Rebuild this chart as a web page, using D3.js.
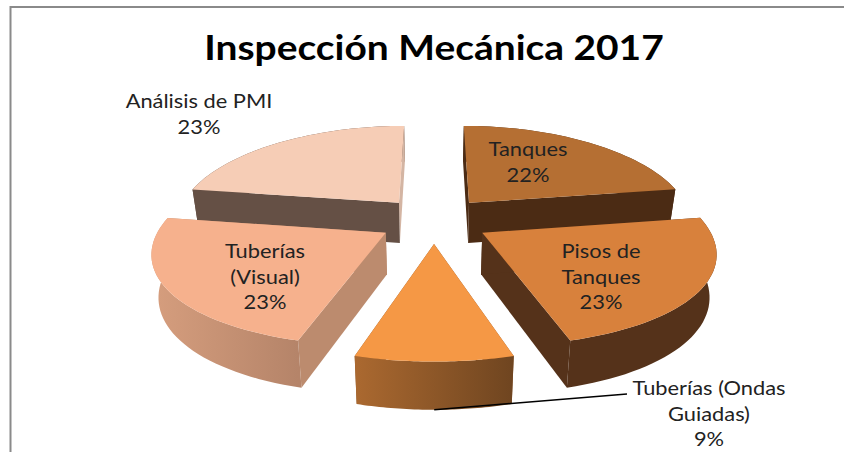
<!DOCTYPE html>
<html>
<head>
<meta charset="utf-8">
<script src="https://cdn.jsdelivr.net/npm/d3@7"></script>
<style>
    html, body { margin: 0; padding: 0; background: #fff; }
    svg { display: block; }
    text { font-family: Lato, "Open Sans", sans-serif; fill: #222; text-anchor: middle; }
</style>
</head>
<body>
<div id="chart"></div>
<script>
const title = 'Inspección Mecánica 2017';
const categories = ['Tanques', 'Pisos de Tanques', 'Tuberías (Ondas Guiadas)', 'Tuberías (Visual)', 'Análisis de PMI'];
const values = [22.49, 23, 9, 23, 22.51];

// label text split the way the chart wraps it
const labelLines = [['Tanques'], ['Pisos de', 'Tanques'], ['Tuberías (Ondas', 'Guiadas)'], ['Tuberías', '(Visual)'], ['Análisis de PMI']];
const labelCenters = [[528, 156], [601, 258], [709, 395], [265, 258], [199, 108]];

const topColors = ['#b56f33', '#d8813c', '#f59845', '#f6b18d', '#f6cdb6'];
const startWallColors = ['#4b2b14', '#55321a', '#8a5428', '#bc8b6e', '#655045'];
const endWallColors = ['#4b2b14', '#55321a', '#8a5428', '#bc8b6e', '#d4b5a3'];
const rimColors = [['#4b2b14', '#4b2b14'], ['#55321a', '#55321a'], ['#ab6930', '#6f4520'], ['#d69e7e', '#b58469'], ['#655045', '#655045']];

const width = 844, height = 452;
const cx = 434, cy = 220;      // centre of the pie on screen
const scaleU = 223, scaleV = 92.7;   // pie radius across / deep
const perspU = 0.18, perspV = 0.145; // front of the pie is closer to the camera
const depth = 41;              // height of the extruded pie
const explode = 0.25;          // how far each slice is pulled out, in radii
const textStretch = 1.12;      // the picture's text is wider than the font

const svg = d3.select('#chart').append('svg')
    .attr('width', width)
    .attr('height', height);

const defs = svg.append('defs');

// chart frame, only the top and left edges are in the picture
svg.append('path')
    .attr('d', `M10.5,${height} V7 H${width}`)
    .attr('fill', 'none')
    .attr('stroke', '#8a8a8a')
    .attr('stroke-width', 2);

svg.append('text')
    .attr('transform', 'translate(434,60) scale(1.145,1)')
    .attr('font-size', 34)
    .attr('font-weight', 700)
    .style('fill', '#000')
    .text(title);

// ground plane -> screen. z is 0 on the top surface and 1 on the bottom one
function project(u, v, z) {
    const shrink = z ? 0.975 : 1;
    return [
        cx + shrink * scaleU * u / (1 - perspU * v),
        cy + scaleV * v / (1 - perspV * v) + z * depth / (1 - 0.12 * v)
    ];
}

const pie = d3.pie().sort(null);
const arcs = pie(values);
const line = d3.line();

function rimPoints(d) {
    const mid = (d.startAngle + d.endAngle) / 2;
    const u0 = explode * Math.sin(mid), v0 = -explode * Math.cos(mid);
    const n = 40;
    return d3.range(n + 1).map(k => {
        const a = d.startAngle + (d.endAngle - d.startAngle) * k / n;
        return [u0 + Math.sin(a), v0 - Math.cos(a)];
    });
}

// back slices first so the nearer ones paint over them
const drawOrder = [4, 0, 3, 1, 2];

drawOrder.forEach(i => {
    const d = arcs[i];
    const mid = (d.startAngle + d.endAngle) / 2;
    const apex = [explode * Math.sin(mid), -explode * Math.cos(mid)];
    const rim = rimPoints(d);
    const g = svg.append('g');

    const topEdge = rim.map(p => project(p[0], p[1], 0));
    const bottomEdge = rim.map(p => project(p[0], p[1], 1)).reverse();
    const xs = topEdge.map(p => p[0]);
    const gradient = defs.append('linearGradient')
        .attr('id', `rim${i}`)
        .attr('gradientUnits', 'userSpaceOnUse')
        .attr('x1', d3.min(xs)).attr('x2', d3.max(xs))
        .attr('y1', 0).attr('y2', 0);
    gradient.append('stop').attr('offset', 0).attr('stop-color', rimColors[i][0]);
    gradient.append('stop').attr('offset', 1).attr('stop-color', rimColors[i][1]);

    function drawRim() {
        g.append('path')
            .attr('d', line(topEdge.concat(bottomEdge)) + 'Z')
            .attr('fill', `url(#rim${i})`);
    }

    // the back slice on the left shows a pale wall over the end of its rim
    if (i === 4) drawRim();

    const first = rim[0], last = rim[rim.length - 1];
    [[last, endWallColors[i]], [first, startWallColors[i]]].forEach(([p, color]) => {
        g.append('path')
            .attr('d', line([project(apex[0], apex[1], 0), project(p[0], p[1], 0), project(p[0], p[1], 1), project(apex[0], apex[1], 1)]) + 'Z')
            .attr('fill', color);
    });

    if (i !== 4) drawRim();

    g.append('path')
        .attr('d', line([project(apex[0], apex[1], 0)].concat(topEdge)) + 'Z')
        .attr('fill', topColors[i]);
});

// leader line for the small slice, starts at the foot of its rim
const leaderStart = (() => {
    const d = arcs[2];
    const mid = (d.startAngle + d.endAngle) / 2;
    return project(explode * Math.sin(mid) + Math.sin(mid), -explode * Math.cos(mid) - Math.cos(mid), 1);
})();
svg.append('path')
    .attr('d', line([leaderStart, [labelCenters[2][0] - 82, labelCenters[2][1] - 1]]))
    .attr('fill', 'none')
    .attr('stroke', '#000')
    .attr('stroke-width', 1.6);

const lineHeight = 25.5;
categories.forEach((name, i) => {
    const lines = labelLines[i].concat(`${Math.round(values[i])}%`);
    lines.forEach((s, k) => {
        svg.append('text')
            .attr('transform', `translate(${labelCenters[i][0]},${labelCenters[i][1] + k * lineHeight}) scale(${textStretch},1)`)
            .attr('font-size', 19.5)
            .text(s);
    });
});
</script>
</body>
</html>
